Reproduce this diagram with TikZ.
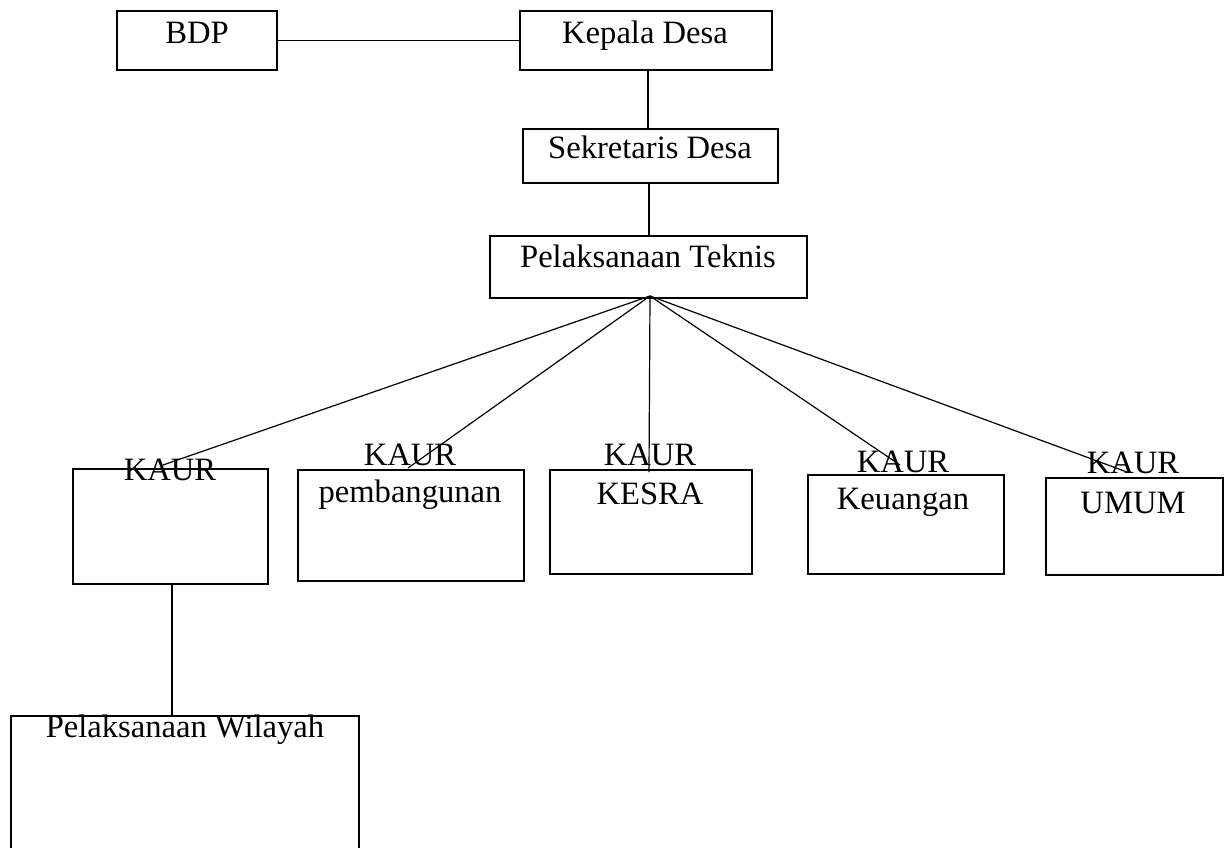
\documentclass[tikz,border=0pt]{standalone}
\usepackage{fontspec}
\setmainfont{Liberation Serif}
\begin{document}
\begin{tikzpicture}[x=0.5pt,y=-0.5pt,
  box/.style={draw, line width=1.1pt, inner sep=0pt, anchor=north west},
  lbl/.style={inner sep=0pt, anchor=base, font=\fontsize{16.3}{19}\selectfont},
  conn/.style={line width=0.6pt}]
\useasboundingbox (0,0) rectangle (1229,847);
\clip (0,0) rectangle (1229,847);
% boxes
\node[box, minimum width=80pt, minimum height=29.5pt] (bdp) at (116,10) {};
\node[box, minimum width=126pt, minimum height=29.5pt] (kd) at (519,10) {};
\node[box, minimum width=127.5pt, minimum height=27pt] (sd) at (522,128) {};
\node[box, minimum width=158.5pt, minimum height=31pt] (pt) at (489,235) {};
\node[box, minimum width=97.5pt, minimum height=57.5pt] (k1) at (72,468) {};
\node[box, minimum width=113pt, minimum height=55.5pt] (k2) at (297,469) {};
\node[box, minimum width=101pt, minimum height=52pt] (k3) at (549,469) {};
\node[box, minimum width=98pt, minimum height=49.5pt] (k4) at (807,474) {};
\node[box, minimum width=88.5pt, minimum height=48.5pt] (k5) at (1045,477) {};
\node[box, minimum width=174pt, minimum height=75pt] (pw) at (10,715) {};
% texts
\node[lbl] (tbdp) at (197,43) {BDP};
\node[lbl] (tkd) at (645,43) {Kepala Desa};
\node[lbl] (tsd) at (650,158) {Sekretaris Desa};
\node[lbl] (tpt) at (648,267) {Pelaksanaan Teknis};
\node[lbl] (t1a) at (170,480) {KAUR};
\node[lbl] (t2a) at (410,465) {KAUR};
\node[lbl] (t2b) at (410,502) {pembangunan};
\node[lbl] (t3a) at (650,465) {KAUR};
\node[lbl] (t3b) at (650,504) {KESRA};
\node[lbl] (t4a) at (903,472) {KAUR};
\node[lbl] (t4b) at (903,509) {Keuangan};
\node[lbl] (t5a) at (1133,473) {KAUR};
\node[lbl] (t5b) at (1133,513) {UMUM};
\node[lbl] (tpw) at (185,737) {Pelaksanaan Wilayah};
% connector end points
\coordinate (fan) at (650,296);
\coordinate (e1) at (163,465);
\coordinate (e2) at (408,468);
\coordinate (e3) at (649,472);
\coordinate (e4) at (900,465);
\coordinate (e5) at (1127,472);
% connectors
\draw[conn] (bdp.east) -- (kd.west);
\draw[conn] (648,69) coordinate (kds) -- (kds |- sd.north);
\draw[conn] (649,182) coordinate (sds) -- (sds |- pt.north);
\draw[conn] (fan) -- (e1);
\draw[conn] (fan) -- (e2);
\draw[conn] (fan) -- (e3);
\draw[conn] (fan) -- (e4);
\draw[conn] (fan) -- (e5);
\draw[conn] (172,583) coordinate (k1s) -- (k1s |- pw.north);
\end{tikzpicture}
\end{document}
